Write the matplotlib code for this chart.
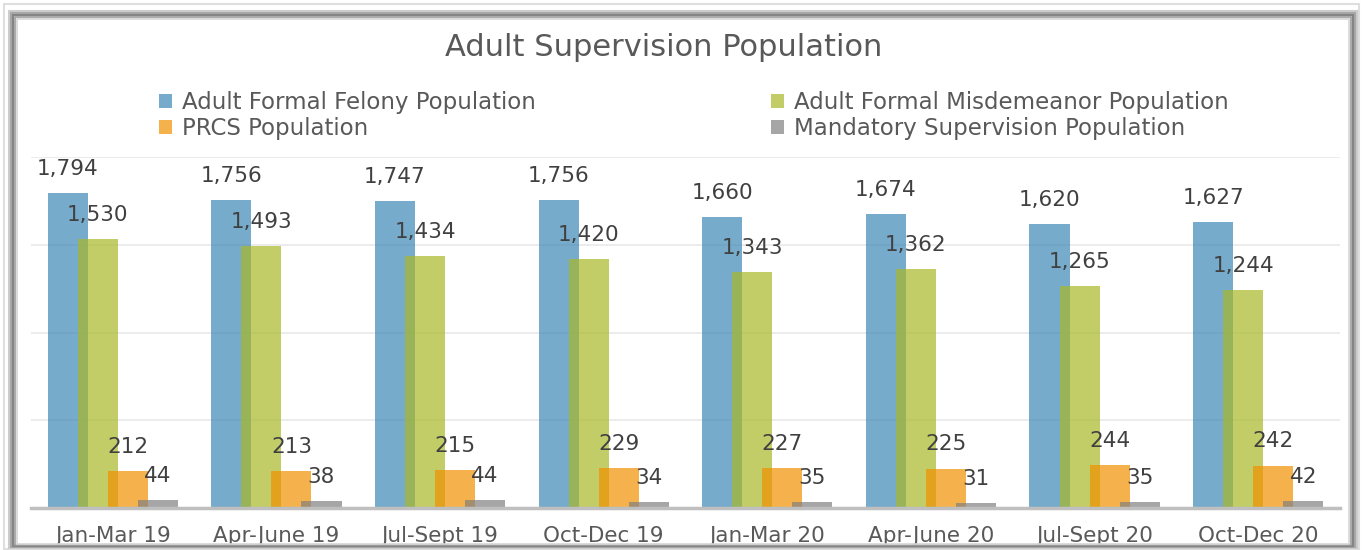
import numpy as np
import matplotlib
matplotlib.use("Agg")
import matplotlib.pyplot as plt
from matplotlib.patches import Rectangle, Patch

quarters = ["Jan-Mar 19", "Apr-June 19", "Jul-Sept 19", "Oct-Dec 19",
            "Jan-Mar 20", "Apr-June 20", "Jul-Sept 20", "Oct-Dec 20"]
felony = [1794, 1756, 1747, 1756, 1660, 1674, 1620, 1627]
misdemeanor = [1530, 1493, 1434, 1420, 1343, 1362, 1265, 1244]
prcs = [212, 213, 215, 229, 227, 225, 244, 242]
mandatory = [44, 38, 44, 34, 35, 31, 35, 42]

series_names = ["Adult Formal Felony Population", "Adult Formal Misdemeanor Population",
                "PRCS Population", "Mandatory Supervision Population"]
series_values = [felony, misdemeanor, prcs, mandatory]
# base colours drawn at alpha 0.7 so overlaps darken like the original
bar_colors = ["#3E88B5", "#A8B927", "#F29100", "#808080"]
alpha = 0.7

plt.rcParams["font.family"] = ["DejaVu Sans"]
text_color = "#595959"

fig = plt.figure(figsize=(13.63, 5.5), dpi=100)
W, H = 1363, 550


def frame_rect(left, top, right, bottom, color, lw):
    # pixel box (y from top) -> figure rectangle
    fig.patches.append(Rectangle((left / W, 1 - bottom / H), (right - left) / W,
                                 (bottom - top) / H, transform=fig.transFigure,
                                 fill=False, edgecolor=color, lw=lw))


# beveled frame around the chart
frame_rect(4, 4, 1359, 549, "#DEDEDE", 1.5)
frame_rect(9, 11, 1357, 548, "#CDCDCD", 1.5)
frame_rect(11, 13, 1355, 547, "#A8A8A8", 1.5)
frame_rect(13, 15, 1353, 546, "#858585", 1.5)
frame_rect(15, 17, 1351, 545, "#9C9C9C", 1.2)
frame_rect(17, 19, 1349, 544, "#D6D6D6", 1.2)

ax = fig.add_axes([31 / W, 42 / H, (1340 - 31) / W, (508 - 157) / H])

x = np.arange(len(quarters))
width = 0.245
step = 0.1835
offsets = [-1.5, -0.5, 0.5, 1.5]

for vals, off, col in zip(series_values, offsets, bar_colors):
    bars = ax.bar(x + off * step, vals, width, color=col, alpha=alpha, zorder=3, linewidth=0)
    for b, v in zip(bars, vals):
        ax.annotate(f"{v:,}", (b.get_x() + b.get_width() / 2, v), xytext=(0, 13),
                    textcoords="offset points", ha="center", va="baseline",
                    fontsize=15.5, color="#404040", zorder=5)

ax.set_xlim(-0.5, len(quarters) - 0.5)
ax.set_ylim(0, 2000)
ax.set_yticks([500, 1000, 1500, 2000])
ax.yaxis.grid(True, color="#EBEBEB", lw=1.3, zorder=0)
ax.tick_params(axis="y", left=False, labelleft=False)
ax.set_xticks(x)
ax.set_xticklabels(quarters, fontsize=15.5, color=text_color)
ax.tick_params(axis="x", length=0, pad=13)
for side in ["top", "right", "left"]:
    ax.spines[side].set_visible(False)
ax.spines["bottom"].set_color("#BFBFBF")
ax.spines["bottom"].set_linewidth(2.5)
ax.spines["bottom"].set_zorder(4)

fig.text(664 / W, 1 - 47 / H, "Adult Supervision Population", ha="center", va="center",
         fontsize=22, color=text_color)

handles = [Patch(facecolor=c, alpha=alpha, linewidth=0) for c in bar_colors]
leg_kw = dict(loc="upper left", frameon=False, fontsize=16.5, handlelength=0.55, handleheight=0.55,
              handletextpad=0.45, labelspacing=0.15, labelcolor=text_color, borderaxespad=0,
              borderpad=0)
fig.legend([handles[0], handles[2]], [series_names[0], series_names[2]],
           bbox_to_anchor=(159 / W, 1 - 91 / H), **leg_kw)
fig.legend([handles[1], handles[3]], [series_names[1], series_names[3]],
           bbox_to_anchor=(771 / W, 1 - 91 / H), **leg_kw)

fig.savefig("out.png", dpi=100)
